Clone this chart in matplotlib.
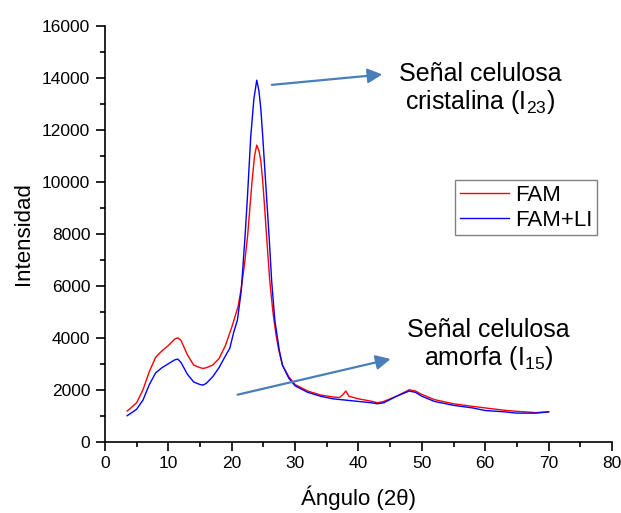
import numpy as np
import matplotlib
matplotlib.use("Agg")
import matplotlib.pyplot as plt
from matplotlib.ticker import MultipleLocator

plt.rcParams['font.family'] = ['Liberation Sans', 'DejaVu Sans']
plt.rcParams['mathtext.fontset'] = 'custom'
plt.rcParams['mathtext.rm'] = 'Liberation Sans'

# FAM (red)
x_fam = [3.5, 4, 5, 6, 7, 8, 9, 10, 11, 11.5, 12, 13, 14, 15, 15.5, 16, 17, 18, 19, 20,
         20.5, 21, 21.5, 22, 22.5, 23, 23.2, 23.6, 23.95, 24.3, 24.6, 24.9, 25.2, 25.5, 26,
         26.5, 27, 27.4, 28, 29, 30, 32, 34, 36, 37, 37.5, 38, 38.5, 40, 42, 43, 44, 46, 48,
         49, 50, 52, 55, 58, 60, 63, 65, 68, 70]
y_fam = [1180, 1280, 1500, 2000, 2700, 3250, 3500, 3700, 3950, 4000, 3900, 3350, 2950, 2850,
         2820, 2850, 2950, 3200, 3700, 4400, 4800, 5200, 5900, 6800, 7900, 9400, 10000,
         11000, 11420, 11200, 10800, 10000, 9000, 7900, 6200, 5000, 4100, 3550, 2950, 2500,
         2200, 1950, 1800, 1720, 1700, 1800, 1950, 1750, 1650, 1560, 1500, 1550, 1750, 2000,
         1950, 1820, 1620, 1460, 1360, 1300, 1210, 1170, 1120, 1150]

# FAM+LI (blue)
x_li = [3.5, 4, 5, 6, 7, 8, 9, 10, 11, 11.5, 12, 13, 14, 15, 15.5, 16, 17, 18, 19, 19.7,
        20.3, 20.9, 21.5, 22.1, 22.5, 23, 23.5, 23.95, 24.3, 24.6, 24.9, 25.4, 25.9, 26.3,
        26.8, 27.5, 28, 29, 30, 32, 34, 36, 38, 40, 42, 43, 44, 46, 48, 49, 50, 52, 55, 58,
        60, 63, 65, 68, 70]
y_li = [1000, 1080, 1250, 1600, 2200, 2650, 2850, 3000, 3150, 3180, 3050, 2600, 2300, 2200,
        2180, 2250, 2500, 2850, 3300, 3600, 4200, 4680, 5800, 7890, 9500, 11740, 13200,
        13920, 13500, 12800, 11740, 9800, 7890, 6200, 4680, 3530, 2950, 2450, 2150, 1900,
        1750, 1650, 1600, 1550, 1500, 1460, 1500, 1750, 1950, 1900, 1750, 1550, 1400, 1300,
        1200, 1150, 1100, 1100, 1150]

fig = plt.figure(figsize=(6.21, 5.13), dpi=100)
ax = fig.add_axes([0.169, 0.139, 0.8165, 0.81])

ax.plot(x_fam, y_fam, color='red', lw=1, label='FAM')
ax.plot(x_li, y_li, color='blue', lw=1, label='FAM+LI')

ax.set_xlim(0, 80)
ax.set_ylim(0, 16000)
ax.xaxis.set_major_locator(MultipleLocator(10))
ax.xaxis.set_minor_locator(MultipleLocator(5))
ax.yaxis.set_major_locator(MultipleLocator(2000))
ax.yaxis.set_minor_locator(MultipleLocator(1000))
ax.tick_params(which='major', direction='out', length=6.5, width=1.2, labelsize=12.5, pad=4)
ax.tick_params(which='minor', direction='out', length=3.5, width=1.2)
for s in ['top', 'right']:
    ax.spines[s].set_visible(False)
for s in ['left', 'bottom']:
    ax.spines[s].set_linewidth(1.2)

ax.set_xlabel('Ángulo (2θ)', fontsize=16, labelpad=10)
ax.set_ylabel('Intensidad', fontsize=16, labelpad=6)

leg = ax.legend(loc='upper left', bbox_to_anchor=(0.733, 0.649), bbox_transform=fig.transFigure,
                fontsize=16, fancybox=False, edgecolor='#808080', framealpha=1,
                handlelength=2.2, labelspacing=0.2, borderpad=0.2, handletextpad=0.3,
                borderaxespad=0)
leg.get_frame().set_linewidth(1)

arrow_col = '#4a7ebb'
ax.annotate('', xy=(44.2, 14150), xytext=(25.9, 13730),
            arrowprops=dict(arrowstyle='-|>', color=arrow_col, lw=1.6, mutation_scale=22))
ax.annotate('', xy=(45.5, 3210), xytext=(20.5, 1785),
            arrowprops=dict(arrowstyle='-|>', color=arrow_col, lw=1.6, mutation_scale=22))

ax.text(59.2, 13580, 'Señal celulosa\ncristalina (I$\\mathregular{_{23}}$)', fontsize=18,
        ha='center', va='center', linespacing=1.1)
ax.text(60.5, 3720, 'Señal celulosa\namorfa (I$\\mathregular{_{15}}$)', fontsize=18,
        ha='center', va='center', linespacing=1.1)

fig.savefig('out.png', dpi=100)
